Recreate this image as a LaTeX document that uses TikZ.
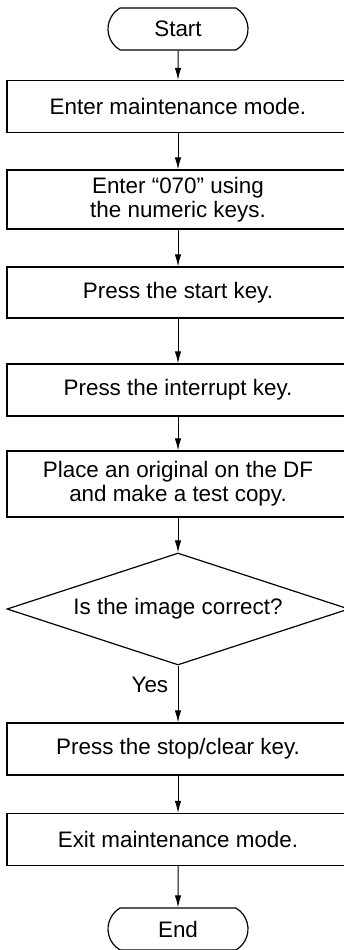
\documentclass[tikz,border=0pt]{standalone}
\usepackage{fontspec}
\setmainfont{Liberation Sans}
\usetikzlibrary{arrows.meta,shapes.geometric,shapes.misc}
\tikzstyle{process} = [rectangle, minimum width=342pt, minimum height=52pt, text centered, align=center, draw=black, line width=1.2pt, inner sep=0pt]
\tikzstyle{terminal} = [rounded rectangle, rounded rectangle arc length=120, minimum width=140pt, minimum height=42pt, draw=black, line width=1.2pt, inner sep=0pt]
\tikzstyle{decision} = [diamond, aspect=3.05, minimum width=342pt, minimum height=112pt, draw=black, line width=1.2pt, inner sep=0pt]

\begin{document}
\begin{tikzpicture}[x=1pt, y=-1pt, font=\fontsize{22.4}{24}\selectfont]
        \useasboundingbox (0,0) rectangle (343,950);
        \node[terminal] (start) at (178,29) {Start};
        \node[process] (mode) at (178,106.5) {Enter maintenance mode.};
        \node[process, minimum height=59pt] (code) at (178,199.5) {Enter “070” using\\the numeric keys.};
        \node[process, minimum height=51pt] (startkey) at (178,292.5) {Press the start key.};
        \node[process] (interrupt) at (178,390) {Press the interrupt key.};
        \node[process, minimum height=66pt] (copy) at (178,484) {Place an original on the DF\\and make a test copy.};
        \node[decision] (check) at (178,609) {Is the image correct?};
        \node[process] (stop) at (178,749) {Press the stop/clear key.};
        \node[process] (exit) at (178,839.5) {Exit maintenance mode.};
        \node[terminal] (end) at (178,929) {End};
        \begin{scope}[-{Latex[length=12pt,width=6.5pt]}, line width=1pt]
            \draw (start) -- (mode);
            \draw (mode) -- (code);
            \draw (code) -- (startkey);
            \draw (startkey) -- (interrupt);
            \draw (interrupt) -- (copy);
            \draw (copy) -- (check);
            \draw (check) -- node[left, pos=0.34, xshift=-6pt] {Yes} (stop);
            \draw (stop) -- (exit);
            \draw (exit) -- (end);
        \end{scope}
    \end{tikzpicture}
\end{document}
